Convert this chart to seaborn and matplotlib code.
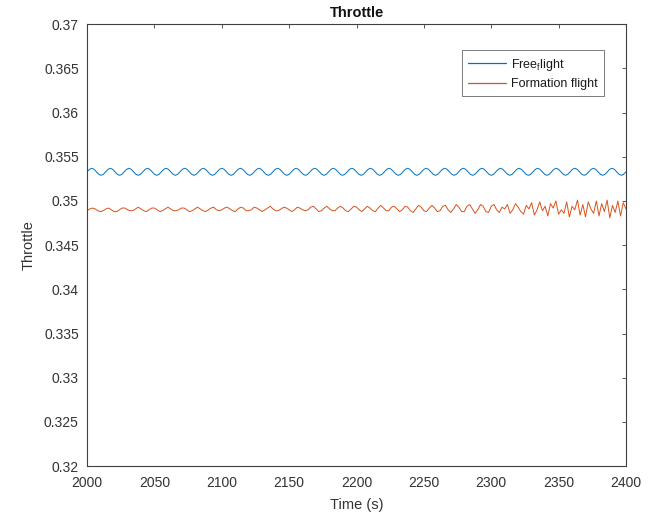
import numpy as np
import pandas as pd
import matplotlib
matplotlib.use("Agg")
import matplotlib.pyplot as plt
import seaborn as sns

# Throttle setting over the simulation window (2000-2400 s)
free_flight = [
    0.3533, 0.35358, 0.3537, 0.35358, 0.3533, 0.35302, 0.3529, 0.35302,
    0.3533, 0.35358, 0.3537, 0.35358, 0.3533, 0.35302, 0.3529, 0.35302,
    0.3533, 0.35358, 0.3537, 0.35358, 0.3533, 0.35302, 0.3529, 0.35302,
    0.3533, 0.35358, 0.3537, 0.35358, 0.3533, 0.35302, 0.3529, 0.35302,
    0.3533, 0.35358, 0.3537, 0.35358, 0.3533, 0.35302, 0.3529, 0.35302,
    0.3533, 0.35358, 0.3537, 0.35358, 0.3533, 0.35302, 0.3529, 0.35302,
    0.3533, 0.35358, 0.3537, 0.35358, 0.3533, 0.35302, 0.3529, 0.35302,
    0.3533, 0.35358, 0.3537, 0.35358, 0.3533, 0.35302, 0.3529, 0.35302,
    0.3533, 0.35358, 0.3537, 0.35358, 0.3533, 0.35302, 0.3529, 0.35302,
    0.3533, 0.35358, 0.3537, 0.35358, 0.3533, 0.35302, 0.3529, 0.35302,
    0.3533, 0.35358, 0.3537, 0.35358, 0.3533, 0.35302, 0.3529, 0.35302,
    0.3533, 0.35358, 0.3537, 0.35358, 0.3533, 0.35302, 0.3529, 0.35302,
    0.3533, 0.35358, 0.3537, 0.35358, 0.3533, 0.35302, 0.3529, 0.35302,
    0.3533, 0.35358, 0.3537, 0.35358, 0.3533, 0.35302, 0.3529, 0.35302,
    0.3533, 0.35358, 0.3537, 0.35358, 0.3533, 0.35302, 0.3529, 0.35302,
    0.3533, 0.35358, 0.3537, 0.35358, 0.3533, 0.35302, 0.3529, 0.35302,
    0.3533, 0.35358, 0.3537, 0.35358, 0.3533, 0.35302, 0.3529, 0.35302,
    0.3533, 0.35358, 0.3537, 0.35358, 0.3533, 0.35302, 0.3529, 0.35302,
    0.3533, 0.35358, 0.3537, 0.35358, 0.3533, 0.35302, 0.3529, 0.35302,
    0.3533, 0.35358, 0.3537, 0.35358, 0.3533, 0.35302, 0.3529, 0.35302,
    0.3533, 0.35358, 0.3537, 0.35358, 0.3533, 0.35302, 0.3529, 0.35302,
    0.3533, 0.35358, 0.3537, 0.35358, 0.3533, 0.35302, 0.3529, 0.35302,
    0.3533, 0.35358, 0.3537, 0.35358, 0.3533, 0.35302, 0.3529, 0.35302,
    0.3533, 0.35358, 0.3537, 0.35358, 0.3533, 0.35302, 0.3529, 0.35302,
    0.3533, 0.35358, 0.3537, 0.35358, 0.3533, 0.35302, 0.3529, 0.35302,
    0.3533, 0.35358, 0.3537, 0.35358, 0.3533, 0.35302, 0.3529, 0.35302,
    0.3533, 0.35358, 0.3537, 0.35358, 0.3533, 0.35302, 0.3529, 0.35302,
    0.3533, 0.35358, 0.3537, 0.35358, 0.3533, 0.35302, 0.3529, 0.35302,
    0.3533, 0.35358, 0.3537, 0.35358, 0.3533, 0.35302, 0.3529, 0.35302,
    0.3533,
]
free_time = np.linspace(2000, 2400, len(free_flight))

formation_flight = [
    0.3489, 0.3491, 0.3492, 0.3491, 0.3489, 0.3488, 0.3489, 0.3491, 0.3492, 0.3490,
    0.3488, 0.3488, 0.3490, 0.3492, 0.3492, 0.3490, 0.3489, 0.3489, 0.3491, 0.3493,
    0.3491, 0.3489, 0.3488, 0.3490, 0.3492, 0.3492, 0.3490, 0.3488, 0.3489, 0.3491,
    0.3493, 0.3491, 0.3489, 0.3489, 0.3490, 0.3492, 0.3492, 0.3490, 0.3488, 0.3489,
    0.3491, 0.3493, 0.3491, 0.3489, 0.3488, 0.3490, 0.3492, 0.3493, 0.3490, 0.3489,
    0.3490, 0.3492, 0.3493, 0.3491, 0.3489, 0.3488, 0.3491, 0.3493, 0.3492, 0.3489,
    0.3489, 0.3490, 0.3493, 0.3492, 0.3490, 0.3488, 0.3490, 0.3492, 0.3494, 0.3491,
    0.3489, 0.3489, 0.3491, 0.3493, 0.3492, 0.3490, 0.3488, 0.3490, 0.3493, 0.3492,
    0.3490, 0.3489, 0.3490, 0.3493, 0.3494, 0.3491, 0.3488, 0.3489, 0.3492, 0.3494,
    0.3491, 0.3489, 0.3489, 0.3492, 0.3494, 0.3492, 0.3489, 0.3488, 0.3491, 0.3494,
    0.3493, 0.3490, 0.3488, 0.3491, 0.3494, 0.3492, 0.3489, 0.3488, 0.3492, 0.3495,
    0.3492, 0.3489, 0.3489, 0.3493, 0.3494, 0.3491, 0.3488, 0.3490, 0.3494, 0.3493,
    0.3489, 0.3487, 0.3491, 0.3495, 0.3493, 0.3489, 0.3488, 0.3492, 0.3495, 0.3492,
    0.3488, 0.3489, 0.3494, 0.3495, 0.3490, 0.3487, 0.3491, 0.3496, 0.3493, 0.3488,
    0.3488, 0.3494, 0.3496, 0.3491, 0.3486, 0.3490, 0.3496, 0.3494, 0.3488, 0.3487,
    0.3494, 0.3496, 0.3490, 0.3487, 0.3493, 0.3491, 0.3496, 0.3486, 0.3490, 0.3497,
    0.3493, 0.3488, 0.3485, 0.3495, 0.3491, 0.3498, 0.3484, 0.3490, 0.3499, 0.3489,
    0.3494, 0.3483, 0.3497, 0.3492, 0.3500, 0.3485, 0.3490, 0.3486, 0.3499, 0.3482,
    0.3494, 0.3490, 0.3501, 0.3484, 0.3496, 0.3482, 0.3499, 0.3491, 0.3486, 0.3500,
    0.3483, 0.3497, 0.3488, 0.3501, 0.3481, 0.3495, 0.3487, 0.3500, 0.3483, 0.3498,
    0.3491,
]
formation_time = np.arange(2000, 2401, 2)

series_labels = ["Free$_{f}$light", "Formation flight"]
series_colors = ["#0072BD", "#D95319"]
x_ticks = [2000, 2050, 2100, 2150, 2200, 2250, 2300, 2350, 2400]
y_ticks = [0.32, 0.325, 0.33, 0.335, 0.34, 0.345, 0.35, 0.355, 0.36, 0.365, 0.37]

sns.set_style("white")
plt.rcParams["font.family"] = ["Liberation Sans", "DejaVu Sans"]
plt.rcParams["mathtext.fontset"] = "custom"
plt.rcParams["mathtext.rm"] = "Liberation Sans"
plt.rcParams["mathtext.it"] = "Liberation Sans"

df_free = pd.DataFrame({"Time": free_time, "Throttle": free_flight})
df_form = pd.DataFrame({"Time": formation_time, "Throttle": formation_flight})

fig = plt.figure(figsize=(6.5, 5.25), dpi=100)
ax = fig.add_axes([0.134, 0.112, 0.829, 0.842])

sns.lineplot(data=df_free, x="Time", y="Throttle", ax=ax, color=series_colors[0],
             linewidth=0.7, label=series_labels[0])
sns.lineplot(data=df_form, x="Time", y="Throttle", ax=ax, color=series_colors[1],
             linewidth=0.7, label=series_labels[1])

axis_gray = "#404040"
label_gray = "#333333"
ax.set_xlim(2000, 2400)
ax.set_ylim(0.32, 0.37)
ax.set_xticks(x_ticks)
ax.set_xticklabels([str(t) for t in x_ticks])
ax.set_yticks(y_ticks)
ax.set_yticklabels([f"{v:g}" for v in y_ticks])
ax.tick_params(direction="in", length=3, width=0.6, top=True, right=True,
               labelsize=10, colors=axis_gray, labelcolor=label_gray)
ax.tick_params(axis="x", pad=7)
ax.tick_params(axis="y", pad=6)
for s in ax.spines.values():
    s.set_visible(True)
    s.set_color(axis_gray)
    s.set_linewidth(0.8)

ax.set_xlabel("Time (s)", fontsize=10.5, color=label_gray, labelpad=6)
ax.set_ylabel("Throttle", fontsize=10.5, color=label_gray, labelpad=6)
ax.set_title("Throttle", fontsize=10.5, fontweight="bold", color="#111111", pad=5)

leg = ax.legend(loc="upper right", fontsize=9, frameon=True, fancybox=False,
                handlelength=3.0, handletextpad=0.4, borderpad=0.5,
                labelspacing=0.45, bbox_to_anchor=(0.97, 0.955))
leg.get_frame().set_edgecolor(axis_gray)
leg.get_frame().set_linewidth(0.6)
for handle, c in zip(leg.get_lines(), series_colors):
    handle.set_color(c)
    handle.set_linewidth(0.9)
for t in leg.get_texts():
    t.set_color("#1a1a1a")

fig.savefig("out.png", dpi=100, facecolor="white")
